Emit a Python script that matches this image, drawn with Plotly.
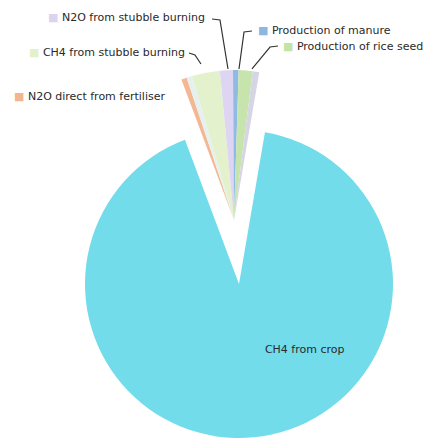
import plotly.graph_objects as go

# ---- data ----
labels = ["CH4 from crop", "N2O direct from fertiliser", "Other (a)",
          "CH4 from stubble burning", "N2O from stubble burning",
          "Production of manure", "Production of rice seed", "Other (b)"]
values = [91.6, 0.6, 0.6, 3.0, 1.4, 0.6, 1.5, 0.7]
colors = ["#72dcea", "#f3b58e", "#e4f1f1", "#e3f1cb", "#dcd3f1",
          "#8ab7e3", "#c3e3a7", "#d3d3e3"]

W, H = 429, 438
TRANSPARENT = "rgba(0,0,0,0)"

def px(x):
    return x / W

def py(y):
    return 1 - y / H

big_colors = [colors[0]] + [TRANSPARENT] * (len(values) - 1)
small_colors = [TRANSPARENT] + colors[1:]

fig = go.Figure()
# main slice
fig.add_trace(go.Pie(
    labels=labels, values=values, sort=False, direction="clockwise",
    rotation=9.7, textinfo="none", showlegend=False,
    marker=dict(colors=big_colors, line=dict(width=0)),
    domain=dict(x=[px(85), px(393)], y=[py(438), py(130)]),
))
# exploded small slices
fig.add_trace(go.Pie(
    labels=labels, values=values, sort=False, direction="clockwise",
    rotation=9.7, textinfo="none", showlegend=False, opacity=0.95,
    marker=dict(colors=small_colors, line=dict(width=0)),
    domain=dict(x=[px(84), px(384)], y=[py(370), py(70)]),
))

# callout labels
callouts = [
    ("N2O from stubble burning", 4, 46, 18),
    ("Production of manure", 5, 256, 30.5),
    ("CH4 from stubble burning", 3, 27, 53),
    ("Production of rice seed", 6, 281, 46),
    ("N2O direct from fertiliser", 1, 12, 97),
    ("CH4 from crop", 0, 249, 349),
]
annotations = []
for text, idx, x, y in callouts:
    annotations.append(dict(
        x=px(x), y=py(y), xref="paper", yref="paper", showarrow=False,
        xanchor="left", yanchor="middle",
        text=f"<span style='color:{colors[idx]}'>■</span> {text}",
        font=dict(family="DejaVu Sans", size=11, color="#2a2a2a"),
    ))

leaders = [
    [(212, 19), (220, 20), (228, 69)],
    [(252, 31), (244, 32), (239, 69)],
    [(189, 53), (195, 55), (201, 64)],
    [(278, 46), (270, 47), (252, 69)],
]
shapes = []
for pts in leaders:
    path = "M " + " L ".join(f"{px(a):.4f},{py(b):.4f}" for a, b in pts)
    shapes.append(dict(type="path", path=path, xref="paper", yref="paper",
                       line=dict(color="#333333", width=1.2)))

fig.update_layout(
    width=W, height=H, margin=dict(l=0, r=0, t=0, b=0),
    paper_bgcolor="white", plot_bgcolor="white",
    annotations=annotations, shapes=shapes,
)

fig.write_html("out.html")
